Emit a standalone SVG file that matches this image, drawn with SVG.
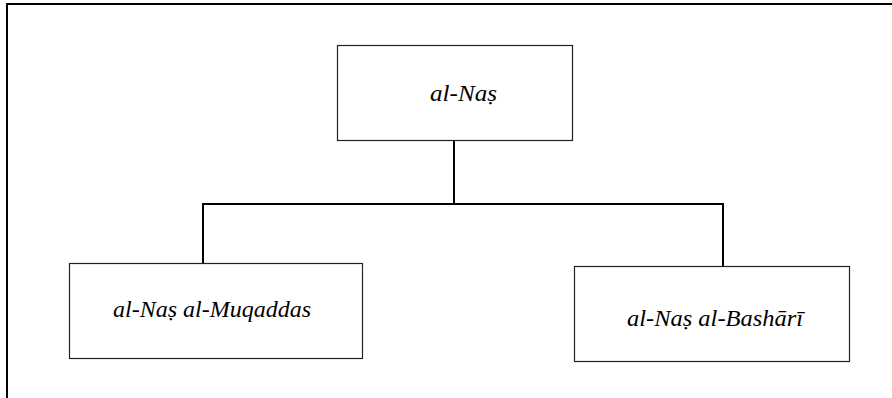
<svg xmlns="http://www.w3.org/2000/svg" width="892" height="398" viewBox="0 0 892 398">
<style>
.box{fill:#fff;stroke:#222;stroke-width:1.2}
.lbl{font-family:"Liberation Serif","Times New Roman",serif;font-style:italic;font-size:24px;fill:#000}
.conn{fill:none;stroke:#000;stroke-width:2}
.frame{fill:none;stroke:#000;stroke-width:2}
</style>
<rect width="892" height="398" fill="#fff"/>
<path class="frame" d="M7,398 V4 H892"/>
<g id="connectors">
<path class="conn" d="M454,141 V204"/>
<path class="conn" d="M203,263 V204 H723 V266"/>
</g>
<g id="node-root">
<rect class="box" x="337.5" y="45.5" width="235" height="95"/>
<text class="lbl" x="430" y="101" textLength="67" lengthAdjust="spacingAndGlyphs">al-Naṣ</text>
</g>
<g id="node-muqaddas">
<rect class="box" x="69.5" y="263.5" width="293" height="95"/>
<text class="lbl" x="113" y="317" textLength="198" lengthAdjust="spacingAndGlyphs">al-Naṣ al-Muqaddas</text>
</g>
<g id="node-bashari">
<rect class="box" x="574.5" y="266.5" width="275" height="95"/>
<text class="lbl" x="627" y="326" textLength="176" lengthAdjust="spacingAndGlyphs">al-Naṣ al-Bashārī</text>
</g>
</svg>
